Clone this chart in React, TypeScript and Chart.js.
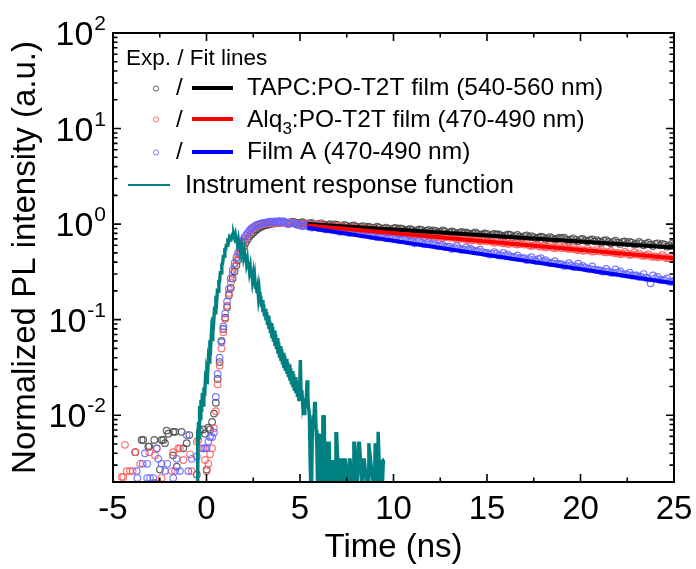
import React, { useEffect, useRef } from 'react';
import { Chart, registerables } from 'chart.js';

Chart.register(...registerables);

const FONT = '"Liberation Sans", Arial, Helvetica, sans-serif';

// ---------- axes ----------
const X_MIN = -5;
const X_MAX = 25;
const Y_MIN = 0.002;
const Y_MAX = 100;
const xTickStep = 5;
const xMinorStep = 2.5;
const yDecades = [-3, -2, -1, 0, 1, 2];
const yMinorMultipliers = [1, 2, 3, 4, 5, 6, 7, 8, 9];
const yTickExponents = ['-2', '-1', '0', '1', '2'];
const xTitle = 'Time (ns)';
const yTitle = 'Normalized PL intensity (a.u.)';

// ---------- legend ----------
const legendHeader = 'Exp. / Fit lines';
const seriesNames = ['TAPC:PO-T2T film ', 'Alq|3|:PO-T2T film ', 'Film A '];
const seriesRanges = ['(540-560 nm)', '(470-490 nm)', '(470-490 nm)'];
const irfName = 'Instrument response function';
const circleColors = ['rgba(70,70,70,0.85)', 'rgba(255,90,90,0.85)', 'rgba(100,100,255,0.85)'];
const fitColors = ['#000000', '#ff0000', '#0000ff'];
const irfColor = '#008080';

// ---------- experimental data: noise floor (before the rise) ----------
const floorTimeBlack = [-3.8, -3.47, -3.38, -3.11, -3.06, -2.79, -2.75, -2.49, -2.4, -2.31, -2.22, -2.13, -2.04, -1.79, -1.78, -1.68, -1.59, -1.33, -1.24, -1.06, -0.92, -0.52, -0.35, -0.17, -0.08, 0.01, 0.1, 0.19];
const floorValueBlack = [0.0041, 0.0055, 0.0055, 0.0047, 0.0047, 0.0055, 0.00195, 0.0027, 0.0055, 0.0055, 0.0051, 0.0069, 0.0064, 0.0038, 0.0067, 0.0067, 0.0029, 0.0067, 0.0045, 0.0051, 0.0062, 0.0024, 0.0069, 0.0071, 0.0064, 0.0027, 0.0074, 0.0071];

const floorTimeRed = [-4.53, -4.45, -4.36, -4.27, -4.09, -3.95, -3.82, -3.55, -3.06, -2.9, -2.75, -2.66, -2.4, -1.86, -1.78, -1.51, -1.42, -1.24, -0.88, -0.79, -0.52, -0.44, -0.17, -0.08, 0.01, 0.1, 0.19];
const floorValueRed = [0.00226, 0.00226, 0.0049, 0.0026, 0.0026, 0.0026, 0.0041, 0.0031, 0.0041, 0.00195, 0.0038, 0.0045, 0.0022, 0.0026, 0.0041, 0.0045, 0.0045, 0.0034, 0.0039, 0.0026, 0.0053, 0.0055, 0.0045, 0.0034, 0.0026, 0.0031, 0.0039];

const floorTimeBlue = [-3.73, -3.7, -3.41, -3.29, -3.17, -3.17, -3.02, -2.84, -2.66, -2.58, -2.4, -2.22, -2.1, -1.78, -1.68, -1.59, -1.42, -1.06, -0.97, -0.79, -0.52, -0.26, -0.08, 0.01, 0.1, 0.19];
const floorValueBlue = [0.0026, 0.0022, 0.0031, 0.004, 0.0031, 0.0022, 0.0022, 0.0022, 0.0045, 0.0035, 0.0031, 0.0026, 0.0031, 0.0022, 0.0026, 0.0035, 0.0026, 0.0062, 0.0026, 0.0035, 0.0037, 0.0045, 0.0045, 0.0045, 0.0053, 0.0059];

// ---------- experimental data: rise ----------
const riseTime = [0.3, 0.4, 0.5, 0.6, 0.7, 0.8, 0.9, 1.0, 1.1, 1.2, 1.3, 1.4, 1.5, 1.6, 1.7, 1.8, 1.9, 2.0, 2.1, 2.2, 2.3, 2.4, 2.5, 2.6, 2.7, 2.8, 2.9, 3.0, 3.1, 3.2, 3.3, 3.4, 3.5, 3.6, 3.7, 3.8, 3.9];
const riseValueBlack = [0.0085, 0.0104, 0.0135, 0.024, 0.036, 0.06, 0.08, 0.105, 0.135, 0.18, 0.215, 0.27, 0.32, 0.37, 0.42, 0.48, 0.53, 0.58, 0.64, 0.69, 0.74, 0.78, 0.81, 0.85, 0.88, 0.91, 0.93, 0.95, 0.97, 0.98, 0.99, 1.0, 1.01, 1.02, 1.02, 1.03, 1.03];
const riseValueRed = [0.0045, 0.0073, 0.011, 0.021, 0.033, 0.05, 0.074, 0.102, 0.14, 0.19, 0.245, 0.3, 0.36, 0.42, 0.48, 0.54, 0.6, 0.66, 0.72, 0.78, 0.83, 0.87, 0.91, 0.94, 0.96, 0.98, 0.99, 1.0, 1.01, 1.02, 1.02, 1.03, 1.03, 1.04, 1.03, 1.04, 1.04];
const riseValueBlue = [0.0059, 0.0066, 0.0155, 0.027, 0.04, 0.058, 0.085, 0.116, 0.155, 0.21, 0.27, 0.33, 0.39, 0.45, 0.51, 0.57, 0.64, 0.7, 0.76, 0.81, 0.86, 0.9, 0.93, 0.96, 0.98, 1.0, 1.01, 1.03, 1.03, 1.04, 1.05, 1.06, 1.05, 1.07, 1.06, 1.06, 1.08];

// ---------- experimental data: decay (two interleaved sampling grids) ----------
const decayTime = [4.0, 4.25, 4.5, 4.75, 5.0, 5.25, 5.5, 5.75, 6.0, 6.25, 6.5, 6.75, 7.0, 7.25, 7.5, 7.75, 8.0, 8.25, 8.5, 8.75, 9.0, 9.25, 9.5, 9.75, 10.0, 10.25, 10.5, 10.75, 11.0, 11.25, 11.5, 11.75, 12.0, 12.25, 12.5, 12.75, 13.0, 13.25, 13.5, 13.75, 14.0, 14.25, 14.5, 14.75, 15.0, 15.25, 15.5, 15.75, 16.0, 16.25, 16.5, 16.75, 17.0, 17.25, 17.5, 17.75, 18.0, 18.25, 18.5, 18.75, 19.0, 19.25, 19.5, 19.75, 20.0, 20.25, 20.5, 20.75, 21.0, 21.25, 21.5, 21.75, 22.0, 22.25, 22.5, 22.75, 23.0, 23.25, 23.5, 23.75, 24.0, 24.25, 24.5, 24.75, 25.0];
const decayValueBlack = [1.04, 1.03, 1.05, 1.04, 1.03, 1.02, 1.02, 0.99, 1.0, 0.99, 0.98, 0.97, 0.98, 0.95, 0.96, 0.95, 0.94, 0.94, 0.92, 0.93, 0.91, 0.92, 0.9, 0.89, 0.9, 0.88, 0.89, 0.87, 0.87, 0.86, 0.87, 0.85, 0.84, 0.85, 0.83, 0.84, 0.82, 0.82, 0.81, 0.81, 0.8, 0.8, 0.79, 0.78, 0.79, 0.77, 0.78, 0.76, 0.76, 0.77, 0.75, 0.74, 0.75, 0.73, 0.73, 0.72, 0.73, 0.71, 0.71, 0.7, 0.71, 0.69, 0.69, 0.68, 0.69, 0.67, 0.68, 0.66, 0.66, 0.67, 0.65, 0.65, 0.64, 0.65, 0.63, 0.64, 0.62, 0.63, 0.62, 0.61, 0.62, 0.6, 0.61, 0.59, 0.6];
const decayValueRed = [1.03, 1.02, 1.03, 1.02, 1.0, 1.0, 0.98, 0.97, 0.96, 0.96, 0.94, 0.94, 0.93, 0.91, 0.91, 0.89, 0.89, 0.88, 0.86, 0.87, 0.85, 0.84, 0.84, 0.82, 0.82, 0.81, 0.8, 0.8, 0.78, 0.78, 0.77, 0.76, 0.76, 0.74, 0.74, 0.73, 0.72, 0.72, 0.7, 0.7, 0.69, 0.68, 0.68, 0.67, 0.66, 0.66, 0.65, 0.64, 0.64, 0.63, 0.62, 0.62, 0.61, 0.6, 0.6, 0.59, 0.59, 0.58, 0.57, 0.57, 0.56, 0.56, 0.55, 0.54, 0.545, 0.53, 0.53, 0.52, 0.52, 0.51, 0.51, 0.5, 0.5, 0.49, 0.49, 0.48, 0.48, 0.47, 0.47, 0.46, 0.46, 0.455, 0.45, 0.44, 0.445];
const decayValueBlue = [1.05, 1.04, 1.02, 1.0, 0.98, 0.96, 0.94, 0.93, 0.91, 0.9, 0.89, 0.87, 0.86, 0.85, 0.83, 0.82, 0.81, 0.79, 0.79, 0.76, 0.76, 0.74, 0.73, 0.72, 0.71, 0.69, 0.69, 0.67, 0.66, 0.65, 0.64, 0.63, 0.62, 0.61, 0.6, 0.58, 0.58, 0.56, 0.56, 0.54, 0.54, 0.53, 0.52, 0.51, 0.5, 0.49, 0.49, 0.47, 0.47, 0.46, 0.45, 0.44, 0.44, 0.43, 0.42, 0.43, 0.41, 0.4, 0.39, 0.385, 0.38, 0.37, 0.37, 0.36, 0.355, 0.35, 0.34, 0.335, 0.33, 0.32, 0.32, 0.31, 0.31, 0.3, 0.295, 0.29, 0.29, 0.28, 0.275, 0.24, 0.27, 0.26, 0.26, 0.25, 0.255];

const decayTime2 = [
  4.125, 4.375, 4.625, 4.875, 5.125, 5.375, 5.625, 5.875, 6.125, 6.375, 6.625, 6.875,
  7.125, 7.375, 7.625, 7.875, 8.125, 8.375, 8.625, 8.875, 9.125, 9.375, 9.625, 9.875,
  10.125, 10.375, 10.625, 10.875, 11.125, 11.375, 11.625, 11.875, 12.125, 12.375, 12.625, 12.875,
  13.125, 13.375, 13.625, 13.875, 14.125, 14.375, 14.625, 14.875, 15.125, 15.375, 15.625, 15.875,
  16.125, 16.375, 16.625, 16.875, 17.125, 17.375, 17.625, 17.875, 18.125, 18.375, 18.625, 18.875,
  19.125, 19.375, 19.625, 19.875, 20.125, 20.375, 20.625, 20.875, 21.125, 21.375, 21.625, 21.875,
  22.125, 22.375, 22.625, 22.875, 23.125, 23.375, 23.625, 23.875, 24.125, 24.375, 24.625, 24.875,
];
const decayValueBlack2 = [
  1.07, 1.01, 1.06, 1.02, 1.05, 0.99, 1.03, 0.97, 1.02, 0.96, 1.0, 0.99,
  0.94, 0.98, 0.93, 0.97, 0.91, 0.95, 0.94, 0.9, 0.94, 0.88, 0.92, 0.87,
  0.91, 0.9, 0.86, 0.89, 0.84, 0.88, 0.83, 0.87, 0.86, 0.82, 0.86, 0.8,
  0.84, 0.79, 0.83, 0.82, 0.78, 0.82, 0.77, 0.8, 0.75, 0.79, 0.78, 0.74,
  0.78, 0.73, 0.77, 0.72, 0.76, 0.75, 0.71, 0.74, 0.7, 0.73, 0.69, 0.72,
  0.72, 0.67, 0.71, 0.66, 0.7, 0.66, 0.69, 0.68, 0.64, 0.68, 0.63, 0.67,
  0.62, 0.66, 0.65, 0.61, 0.65, 0.6, 0.64, 0.59, 0.63, 0.62, 0.58, 0.62,
];
const decayValueRed2 = [
  1.05, 1.0, 1.04, 0.99, 0.97, 1.02, 0.95, 1.0, 0.98, 0.93, 0.91, 0.96,
  0.95, 0.9, 0.88, 0.93, 0.84, 0.91, 0.87, 0.89, 0.83, 0.87, 0.81, 0.86,
  0.84, 0.79, 0.82, 0.78, 0.76, 0.8, 0.79, 0.75, 0.77, 0.73, 0.72, 0.75,
  0.74, 0.7, 0.73, 0.69, 0.67, 0.71, 0.66, 0.7, 0.68, 0.64, 0.67, 0.63,
  0.62, 0.65, 0.61, 0.64, 0.63, 0.59, 0.62, 0.58, 0.57, 0.6, 0.56, 0.59,
  0.58, 0.55, 0.57, 0.535, 0.525, 0.555, 0.515, 0.545, 0.535, 0.505, 0.525, 0.495,
  0.485, 0.515, 0.475, 0.505, 0.495, 0.465, 0.485, 0.455, 0.45, 0.475, 0.44, 0.465,
];
const decayValueBlue2 = [
  1.06, 1.01, 1.03, 0.98, 0.95, 0.99, 0.92, 0.97, 0.93, 0.88, 0.91, 0.86,
  0.83, 0.87, 0.81, 0.86, 0.82, 0.78, 0.8, 0.75, 0.73, 0.77, 0.71, 0.75,
  0.72, 0.68, 0.7, 0.66, 0.63, 0.67, 0.62, 0.66, 0.63, 0.59, 0.61, 0.58,
  0.55, 0.59, 0.54, 0.57, 0.55, 0.52, 0.54, 0.5, 0.48, 0.51, 0.47, 0.5,
  0.48, 0.45, 0.47, 0.44, 0.42, 0.45, 0.41, 0.44, 0.42, 0.39, 0.41, 0.38,
  0.365, 0.39, 0.355, 0.385, 0.365, 0.34, 0.36, 0.33, 0.32, 0.34, 0.31, 0.335,
  0.32, 0.3, 0.31, 0.29, 0.28, 0.3, 0.27, 0.29, 0.28, 0.26, 0.27, 0.25,
];

// ---------- fit lines (single exponentials, straight on log axis) ----------
const fitTime = [5.4, 25];
const fitValueBlack = [1.0, 0.57];
const fitValueRed = [0.965, 0.44];
const fitValueBlue = [0.915, 0.24];

// ---------- instrument response function ----------
const irfTime = [-0.55, -0.5, -0.48, -0.46, -0.43, -0.4, -0.37, -0.34, -0.3, -0.26, -0.22, -0.18, -0.14, -0.1, -0.06, -0.02, 0.02, 0.06, 0.1, 0.14, 0.18, 0.22, 0.26, 0.3, 0.34, 0.38, 0.42, 0.46, 0.5, 0.54, 0.58, 0.62, 0.66, 0.7, 0.74, 0.78, 0.82, 0.86, 0.9, 0.94, 0.98, 1.02, 1.06, 1.1, 1.14, 1.18, 1.22, 1.26, 1.3, 1.34, 1.38, 1.42, 1.46, 1.5, 1.54, 1.58, 1.62, 1.66, 1.7, 1.74, 1.78, 1.82, 1.86, 1.9, 1.94, 1.98, 2.02, 2.06, 2.1, 2.14, 2.18, 2.22, 2.26, 2.3, 2.34, 2.38, 2.42, 2.46, 2.5, 2.54, 2.58, 2.62, 2.66, 2.7, 2.74, 2.78, 2.82, 2.86, 2.9, 2.94, 2.98, 3.02, 3.06, 3.1, 3.14, 3.18, 3.22, 3.26, 3.3, 3.34, 3.38, 3.42, 3.46, 3.5, 3.54, 3.58, 3.62, 3.66, 3.7, 3.74, 3.78, 3.82, 3.86, 3.9, 3.94, 3.98, 4.02, 4.06, 4.1, 4.14, 4.18, 4.22, 4.26, 4.3, 4.34, 4.38, 4.42, 4.46, 4.5, 4.54, 4.58, 4.62, 4.66, 4.7, 4.74, 4.78, 4.82, 4.86, 4.9, 4.94, 4.98, 5.02, 5.06, 5.1, 5.14, 5.18, 5.22, 5.26, 5.3, 5.34, 5.38, 5.42, 5.46, 5.5, 5.54, 5.58, 5.62, 5.66, 5.7, 5.74, 5.78, 5.82, 5.86, 5.9, 5.94, 5.98, 6.02, 6.06, 6.1, 6.14, 6.18, 6.22, 6.26, 6.3, 6.34, 6.38, 6.42, 6.48, 6.52, 6.56, 6.62, 6.66, 6.72, 6.76, 6.84, 6.88, 6.92, 6.96, 7.08, 7.12, 7.16, 7.2, 7.24, 7.28, 7.34, 7.38, 7.42, 7.56, 7.6, 7.64, 7.68, 7.8, 7.84, 7.88, 7.92, 8.06, 8.1, 8.14, 8.18, 8.32, 8.36, 8.4, 8.44, 8.6, 8.64, 8.68, 8.94, 8.98, 9.02, 9.1, 9.14, 9.18, 9.22, 9.28, 9.32, 9.4, 9.46, 9.5];
const irfValue = [
  0.0017, 0.0017, 0.0068, 0.0025, 0.0085, 0.0058, 0.0125, 0.0092, 0.0145, 0.0108, 0.0172, 0.0128, 0.0195, 0.0158, 0.0235, 0.022, 0.029, 0.027, 0.039, 0.036, 0.052, 0.05, 0.07, 0.062, 0.093, 0.09, 0.122, 0.118, 0.155, 0.15, 0.2, 0.198, 0.25, 0.25, 0.31, 0.31, 0.38, 0.385, 0.46, 0.46, 0.54, 0.54, 0.6, 0.6, 0.66, 0.65, 0.71, 0.68, 0.73, 0.72, 0.76, 0.74, 0.77,
  0.72, 0.77, 0.67, 0.72, 0.62, 0.68, 0.58, 0.63, 0.53, 0.59, 0.5, 0.55, 0.46, 0.51, 0.42, 0.47, 0.39, 0.43, 0.35, 0.39, 0.32, 0.355, 0.285, 0.325, 0.26, 0.295, 0.235, 0.27, 0.21, 0.245, 0.19, 0.215, 0.17, 0.195, 0.152, 0.178, 0.135, 0.16, 0.12, 0.145, 0.108, 0.13, 0.098, 0.12, 0.088, 0.11, 0.08, 0.098, 0.072, 0.092, 0.064, 0.084, 0.059, 0.077, 0.053, 0.07, 0.049, 0.064, 0.044, 0.058, 0.04, 0.053, 0.037, 0.049, 0.034, 0.045, 0.031, 0.042, 0.029, 0.039, 0.027, 0.036, 0.025, 0.034, 0.023, 0.031, 0.021, 0.029, 0.0195, 0.027, 0.018, 0.025, 0.017, 0.023, 0.0155, 0.021, 0.014, 0.0195, 0.0377,
  0.016, 0.0183, 0.0133, 0.015, 0.0104, 0.014, 0.012, 0.016, 0.0232, 0.0156, 0.012, 0.01, 0.0034, 0.0017, 0.0017, 0.0067, 0.01, 0.0084, 0.0133, 0.0133, 0.007, 0.0047, 0.0017, 0.0064, 0.005, 0.0017, 0.0064, 0.0034, 0.0017, 0.01, 0.0084, 0.01, 0.0017, 0.0051, 0.0051, 0.0017, 0.0051, 0.0051, 0.0017, 0.0034, 0.0017, 0.0034, 0.0017, 0.0017, 0.0064, 0.0064, 0.0017, 0.0017, 0.0034, 0.0034, 0.0017, 0.0034, 0.0017, 0.0034, 0.0034, 0.0017, 0.0017, 0.0034, 0.0034, 0.0017, 0.0017, 0.0051, 0.0051, 0.0017, 0.0017, 0.0051, 0.0051, 0.0017, 0.0017, 0.0034, 0.0034, 0.0017, 0.0017, 0.0051, 0.0017, 0.0017, 0.0051, 0.0017, 0.0017, 0.0067, 0.0067, 0.0017, 0.0034, 0.0017, 0.0034, 0.0034, 0.0017,
];

const pts = (t: number[], v: number[]) => t.map((x, i) => ({ x, y: v[i] }));

const decorPlugin = {
  id: 'decor',
  afterDraw(chart: any) {
    const { ctx, chartArea: a } = chart;
    const xs = chart.scales.x;
    const ys = chart.scales.y;
    ctx.save();
    // frame
    ctx.strokeStyle = '#000';
    ctx.lineWidth = 2;
    ctx.strokeRect(a.left, a.top, a.right - a.left, a.bottom - a.top);
    // inward ticks
    ctx.lineWidth = 1.6;
    ctx.beginPath();
    for (let v = X_MIN; v <= X_MAX + 1e-9; v += xMinorStep) {
      const px = xs.getPixelForValue(v);
      const major = Math.abs(v / xTickStep - Math.round(v / xTickStep)) < 1e-9;
      const len = major ? 8 : 4.5;
      ctx.moveTo(px, a.bottom);
      ctx.lineTo(px, a.bottom - len);
      ctx.moveTo(px, a.top);
      ctx.lineTo(px, a.top + len);
    }
    for (const d of yDecades) {
      for (const m of yMinorMultipliers) {
        const v = m * Math.pow(10, d);
        if (v < Y_MIN * 0.999 || v > Y_MAX * 1.001) continue;
        const py = ys.getPixelForValue(v);
        const len = m === 1 ? 8 : 4.5;
        ctx.moveTo(a.left, py);
        ctx.lineTo(a.left + len, py);
        ctx.moveTo(a.right, py);
        ctx.lineTo(a.right - len, py);
      }
    }
    ctx.stroke();

    // y tick labels with superscripts
    ctx.fillStyle = '#000';
    ctx.textBaseline = 'alphabetic';
    ctx.textAlign = 'left';
    const R = 106;
    for (const e of yTickExponents) {
      const py = ys.getPixelForValue(Math.pow(10, Number(e)));
      ctx.font = `21px ${FONT}`;
      const wSup = ctx.measureText(e).width;
      ctx.font = `34px ${FONT}`;
      const wMain = ctx.measureText('10').width;
      ctx.fillText('10', R - wSup - wMain - 1, py + 12);
      ctx.font = `21px ${FONT}`;
      ctx.fillText(e, R - wSup, py - 3);
    }

    // legend
    ctx.font = `22.5px ${FONT}`;
    ctx.fillText(legendHeader, 126, 65);
    const rowLineY = [88, 119, 152];
    const rowBase = [95, 127, 159];
    for (let i = 0; i < 3; i++) {
      const y = rowLineY[i];
      ctx.strokeStyle = circleColors[i];
      ctx.lineWidth = 1;
      ctx.beginPath();
      ctx.arc(156, y + 0.5, 2.6, 0, Math.PI * 2);
      ctx.stroke();
      ctx.fillStyle = '#000';
      ctx.font = `24px ${FONT}`;
      ctx.fillText('/', 176, rowBase[i]);
      ctx.strokeStyle = fitColors[i];
      ctx.lineWidth = 4;
      ctx.beginPath();
      ctx.moveTo(192, y);
      ctx.lineTo(233, y);
      ctx.stroke();
      let x = 247;
      const parts = seriesNames[i].split('|');
      parts.forEach((p, k) => {
        const sub = k % 2 === 1;
        ctx.font = sub ? `17px ${FONT}` : `24.5px ${FONT}`;
        ctx.fillText(p, x, rowBase[i] + (sub ? 7 : 0));
        x += ctx.measureText(p).width;
      });
      ctx.font = `24.5px ${FONT}`;
      ctx.fillText(seriesRanges[i], x, rowBase[i]);
    }
    ctx.strokeStyle = irfColor;
    ctx.lineWidth = 2.2;
    ctx.beginPath();
    ctx.moveTo(128, 185);
    ctx.lineTo(170, 185);
    ctx.stroke();
    ctx.fillStyle = '#000';
    ctx.font = `25.5px ${FONT}`;
    ctx.fillText(irfName, 185, 193);
    ctx.restore();
  },
};

export default function App() {
  const ref = useRef<HTMLCanvasElement | null>(null);
  useEffect(() => {
    if (!ref.current) return;
    const circle = (label: string, color: string, t: number[], v: number[], order: number) => ({
      label,
      data: pts(t, v),
      showLine: false,
      pointRadius: 3.3,
      pointBorderWidth: 1.2,
      pointBorderColor: color,
      pointBackgroundColor: 'rgba(0,0,0,0)',
      borderColor: color,
      backgroundColor: 'rgba(0,0,0,0)',
      order,
    });
    const line = (label: string, color: string, t: number[], v: number[], width: number, order: number) => ({
      label,
      data: pts(t, v),
      showLine: true,
      pointRadius: 0,
      borderColor: color,
      backgroundColor: color,
      borderWidth: width,
      borderJoinStyle: 'miter',
      tension: 0,
      order,
    });
    const chart = new Chart(ref.current, {
      type: 'scatter',
      data: {
        datasets: [
          circle('TAPC:PO-T2T exp', circleColors[0],
            [...floorTimeBlack, ...riseTime, ...decayTime, ...decayTime2],
            [...floorValueBlack, ...riseValueBlack, ...decayValueBlack, ...decayValueBlack2], 7),
          circle('Alq3:PO-T2T exp', circleColors[1],
            [...floorTimeRed, ...riseTime, ...decayTime, ...decayTime2],
            [...floorValueRed, ...riseValueRed, ...decayValueRed, ...decayValueRed2], 6),
          circle('Film A exp', circleColors[2],
            [...floorTimeBlue, ...riseTime, ...decayTime, ...decayTime2],
            [...floorValueBlue, ...riseValueBlue, ...decayValueBlue, ...decayValueBlue2], 5),
          line('IRF', irfColor, irfTime, irfValue, 3.4, 4),
          line('TAPC:PO-T2T fit', fitColors[0], fitTime, fitValueBlack, 4, 3),
          line('Alq3:PO-T2T fit', fitColors[1], fitTime, fitValueRed, 4, 2),
          line('Film A fit', fitColors[2], fitTime, fitValueBlue, 4, 1),
        ] as any,
      },
      options: {
        responsive: false,
        devicePixelRatio: 1,
        animation: false,
        layout: { padding: { top: 33, right: 22, left: 0, bottom: 0 } },
        plugins: { legend: { display: false }, tooltip: { enabled: false } },
        scales: {
          x: {
            type: 'linear',
            min: X_MIN,
            max: X_MAX,
            grid: { display: false, drawTicks: false },
            border: { display: false },
            ticks: {
              stepSize: xTickStep,
              color: '#000',
              font: { family: FONT, size: 33 },
              padding: 8,
              maxRotation: 0,
              autoSkip: false,
            },
            title: {
              display: true,
              text: xTitle,
              color: '#000',
              font: { family: FONT, size: 33 },
              padding: { top: 0, bottom: 1 },
            },
            afterFit: (s: any) => {
              s.height = 87;
              s.paddingLeft = 0;
              s.paddingRight = 0;
            },
          },
          y: {
            type: 'logarithmic',
            min: Y_MIN,
            max: Y_MAX,
            grid: { display: false, drawTicks: false },
            border: { display: false },
            ticks: { display: false },
            title: {
              display: true,
              text: yTitle,
              color: '#000',
              font: { family: FONT, size: 33 },
              padding: { top: 6, bottom: 0 },
            },
            afterFit: (s: any) => {
              s.width = 113;
            },
          },
        },
      } as any,
      plugins: [decorPlugin],
    });
    return () => chart.destroy();
  }, []);
  return (
    <div style={{ position: 'absolute', left: 0, top: 0, width: 696, height: 569, background: '#fff' }}>
      <canvas ref={ref} width={696} height={569} style={{ display: 'block', width: 696, height: 569 }} />
    </div>
  );
}
